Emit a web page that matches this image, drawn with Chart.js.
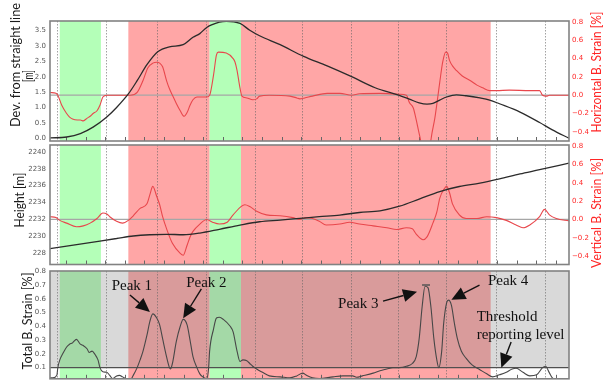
<!DOCTYPE html>
<html lang="en">
<head>
    <meta charset="UTF-8">
    <title>Bending strain along the line</title>
    <script src="https://cdn.jsdelivr.net/npm/chart.js"></script>
    <style>
        html, body { margin: 0; padding: 0; background: #fff; overflow: hidden; }
        #wrap { position: relative; width: 604px; height: 387px; }
        #wrap canvas { position: absolute; left: 0; top: 0; }
    </style>
</head>
<body>
    <div id="wrap">
        <canvas id="devChart" width="604" height="387"></canvas>
        <canvas id="heightChart" width="604" height="387"></canvas>
        <canvas id="totalChart" width="604" height="387"></canvas>
    </div>

    <script>
        // distance along the line [m]
        const xMin = -17, xMax = 513;
        const stations = [-9, 41, 93, 143, 193, 241, 291, 339, 388, 439, 489];

        // coloured zones
        const bandStart = [-7, 63, 146, 178];
        const bandEnd   = [35, 146, 178, 433];
        const bandType  = ['green', 'red', 'green', 'red'];

        // panel 1 - deviation from straight line [m]
        const devX = [-17, 0, 14, 27, 41, 51, 63, 72, 82, 93, 105, 119, 129, 136, 143, 156, 163, 177, 187, 197, 218, 242, 266, 291, 315, 339, 350, 360, 368, 374, 381, 388, 398, 408, 422, 432, 442, 463, 483, 496, 513];
        const devY = [0.01, 0.04, 0.15, 0.36, 0.69, 1.0, 1.44, 1.87, 2.39, 2.81, 2.97, 3.04, 3.28, 3.4, 3.6, 3.77, 3.8, 3.73, 3.51, 3.33, 3.04, 2.66, 2.35, 2.0, 1.64, 1.4, 1.27, 1.15, 1.11, 1.13, 1.24, 1.34, 1.41, 1.38, 1.31, 1.24, 1.12, 0.85, 0.51, 0.27, 0.0];

        // panel 1 - horizontal bending strain [%]
        const hStrainX = [-17, -11, -9, -5, 0, 3, 6, 11, 14, 17, 21, 24, 27, 31, 34, 37, 41, 54, 65, 72, 78, 83, 88, 92, 95, 98, 102, 105, 108, 112, 116, 120, 123, 126, 129, 133, 143, 146, 150, 153, 155, 163, 170, 172, 174, 177, 179, 184, 190, 194, 197, 207, 228, 235, 238, 243, 251, 266, 279, 291, 299, 320, 340, 347, 350, 354, 357, 360, 366, 371, 373, 376, 378, 381, 384, 387, 389, 391, 394, 398, 404, 412, 419, 425, 432, 439, 452, 473, 483, 486, 490, 493, 513];
        const hStrainY = [0.03, 0.02, 0.0, -0.11, -0.2, -0.24, -0.26, -0.27, -0.27, -0.28, -0.25, -0.23, -0.2, -0.17, -0.11, -0.02, 0.0, 0.0, 0.0, 0.03, 0.16, 0.3, 0.35, 0.36, 0.35, 0.31, 0.16, 0.07, 0.0, -0.09, -0.17, -0.23, -0.19, -0.11, -0.05, -0.02, -0.02, 0.0, 0.22, 0.44, 0.47, 0.46, 0.4, 0.36, 0.27, 0.08, -0.01, -0.03, -0.05, -0.04, -0.01, 0.0, -0.01, -0.03, -0.04, -0.03, -0.01, 0.02, 0.02, 0.0, 0.015, 0.02, 0.01, 0.0, -0.08, -0.14, -0.27, -0.42, -0.65, -0.55, -0.42, -0.25, -0.1, 0.14, 0.36, 0.47, 0.46, 0.38, 0.32, 0.27, 0.21, 0.16, 0.11, 0.08, 0.05, 0.05, 0.055, 0.05, 0.05, 0.0, -0.01, 0.0, 0.0];

        // panel 2 - height [m]
        const heightX = [-17, 0, 17, 34, 51, 68, 85, 102, 119, 136, 156, 177, 197, 218, 238, 258, 279, 299, 320, 340, 360, 381, 401, 422, 442, 463, 483, 513];
        const heightY = [2228.5, 2228.8, 2229.1, 2229.4, 2229.7, 2230.0, 2230.15, 2230.2, 2230.15, 2230.35, 2230.8, 2231.3, 2231.7, 2231.9, 2232.1, 2232.3, 2232.5, 2232.8, 2233.0, 2233.55, 2234.4, 2235.3, 2235.9, 2236.3, 2236.8, 2237.4, 2237.9, 2238.7];

        // panel 2 - vertical bending strain [%]
        const vStrainX = [-17, -11, -7, 0, 10, 17, 24, 31, 37, 41, 44, 51, 57, 63, 68, 75, 82, 85, 88, 92, 95, 98, 102, 108, 116, 119, 123, 126, 129, 136, 143, 149, 156, 164, 170, 182, 187, 194, 204, 218, 231, 238, 245, 251, 258, 265, 279, 289, 299, 313, 327, 337, 347, 353, 357, 364, 368, 374, 378, 381, 386, 388, 391, 394, 401, 408, 419, 429, 439, 449, 459, 466, 473, 483, 488, 493, 500, 513];
        const vStrainY = [0.03, 0.02, -0.01, -0.04, -0.08, -0.07, -0.04, 0.01, 0.07, 0.06, 0.03, -0.02, -0.04, -0.01, 0.04, 0.12, 0.17, 0.27, 0.36, 0.25, 0.16, 0.03, -0.1, -0.26, -0.37, -0.39, -0.28, -0.19, -0.13, -0.05, 0.0, -0.03, -0.05, -0.03, 0.05, 0.16, 0.14, 0.09, 0.05, 0.04, 0.02, 0.0, 0.02, 0.01, -0.02, -0.06, -0.05, -0.03, -0.05, -0.07, -0.09, -0.11, -0.09, -0.1, -0.16, -0.22, -0.19, -0.04, 0.08, 0.23, 0.34, 0.36, 0.29, 0.17, 0.05, 0.01, 0.01, 0.03, 0.02, -0.01, -0.06, -0.09, -0.06, 0.03, 0.11, 0.05, 0.01, -0.015];

        // panel 3 - total bending strain [%]
        const totalX = [-17, -14, -10, -9, -7, -4, 0, 3, 6, 8, 10, 14, 17, 21, 23, 26, 29, 32, 34, 37, 41, 44, 47, 51, 54, 57, 62, 65, 68, 72, 75, 78, 82, 85, 88, 92, 95, 98, 102, 105, 106, 108, 112, 116, 119, 123, 126, 129, 133, 136, 139, 143, 145, 146, 150, 153, 156, 160, 167, 170, 174, 177, 180, 184, 187, 190, 194, 200, 207, 218, 228, 235, 241, 245, 251, 258, 272, 282, 292, 296, 302, 313, 320, 327, 333, 340, 347, 353, 357, 360, 363, 366, 369, 372, 375, 378, 380, 383, 385, 388, 390, 393, 396, 399, 403, 408, 414, 422, 429, 435, 442, 449, 455, 459, 466, 473, 480, 486, 489, 493, 496, 503, 513];
        const totalY = [0.026, 0.026, 0.044, 0.1, 0.156, 0.2, 0.25, 0.27, 0.28, 0.295, 0.305, 0.27, 0.26, 0.235, 0.21, 0.22, 0.195, 0.156, 0.1, 0.07, 0.066, 0.044, 0.02, 0.04, 0.044, 0.033, 0.015, 0.012, 0.044, 0.1, 0.156, 0.22, 0.335, 0.436, 0.49, 0.46, 0.41, 0.31, 0.18, 0.1, 0.09, 0.13, 0.29, 0.4, 0.45, 0.41, 0.3, 0.18, 0.1, 0.055, 0.033, 0.02, 0.1, 0.22, 0.38, 0.46, 0.465, 0.45, 0.4, 0.36, 0.22, 0.145, 0.156, 0.15, 0.13, 0.11, 0.09, 0.066, 0.04, 0.033, 0.026, 0.04, 0.06, 0.044, 0.026, 0.02, 0.033, 0.04, 0.04, 0.03, 0.04, 0.06, 0.078, 0.09, 0.1, 0.1, 0.11, 0.13, 0.18, 0.31, 0.54, 0.69, 0.68, 0.54, 0.31, 0.156, 0.1, 0.22, 0.42, 0.57, 0.59, 0.55, 0.42, 0.31, 0.22, 0.167, 0.12, 0.085, 0.055, 0.033, 0.048, 0.066, 0.09, 0.095, 0.066, 0.04, 0.048, 0.1, 0.11, 0.062, 0.026, 0.005, 0.005];

        const threshold = 0.1;
        const peak3Mark = [{ x: 367, y: 0.70 }];

        const bandColors = { green: '#b4ffb8', red: '#ffa6a6' };
        const red = '#ff2626';

        function pts(xs, ys) {
            return xs.map((x, i) => ({ x: x, y: ys[i] }));
        }

        function line(data, color, width, axis) {
            return {
                data: data, yAxisID: axis, borderColor: color, borderWidth: width,
                pointRadius: 0, cubicInterpolationMode: 'monotone', fill: false
            };
        }

        function flat(y, color, width, axis) {
            return line([{ x: xMin, y: y }, { x: xMax, y: y }], color, width, axis);
        }

        // vertical axis titles, squeezed along the text like in the original figure
        function drawTitle(ctx, t) {
            ctx.save();
            ctx.translate(t.x, t.y);
            ctx.rotate(-Math.PI / 2);
            ctx.font = '13px Lato';
            ctx.fillStyle = t.color || '#1a1a1a';
            ctx.textAlign = 'center';
            ctx.textBaseline = 'middle';
            const w = ctx.measureText(t.text).width;
            ctx.scale(t.len / w, 1);
            ctx.fillText(t.text, 0, 0);
            ctx.restore();
        }

        function panelPlugin(titles, shadeAbove) {
            return {
                id: 'panel',
                beforeDraw(chart) {
                    const ctx = chart.ctx, a = chart.chartArea, x = chart.scales.x;
                    ctx.save();
                    bandStart.forEach((s, i) => {
                        const x0 = Math.max(a.left, x.getPixelForValue(s));
                        const x1 = Math.min(a.right, x.getPixelForValue(bandEnd[i]));
                        ctx.fillStyle = bandColors[bandType[i]];
                        ctx.fillRect(x0, a.top, x1 - x0, a.bottom - a.top);
                    });
                    if (shadeAbove !== undefined) {
                        const yT = chart.scales.y.getPixelForValue(shadeAbove);
                        ctx.fillStyle = 'rgba(128,128,128,0.3)';
                        ctx.fillRect(a.left, a.top, a.right - a.left, yT - a.top);
                    }
                    ctx.restore();
                },
                afterDraw(chart) {
                    const ctx = chart.ctx, a = chart.chartArea;
                    ctx.save();
                    ctx.strokeStyle = '#828282';
                    ctx.lineWidth = 1.6;
                    ctx.strokeRect(a.left, a.top, a.right - a.left, a.bottom - a.top);
                    ctx.restore();
                    titles.forEach(t => drawTitle(ctx, t));
                }
            };
        }

        // arrows and labels of panel 3 (data coordinates)
        const notes = [
            { text: 'Peak 1', tx: 66.6, ty: 0.690, from: [64.6, 0.627], to: [85.0, 0.504] },
            { text: 'Peak 2', tx: 142.7, ty: 0.716, from: [137.6, 0.672], to: [119.0, 0.459] },
            { text: 'Peak 3', tx: 297.8, ty: 0.561, from: [323.1, 0.583], to: [357.8, 0.650] },
            { text: 'Peak 4', tx: 450.8, ty: 0.729, from: [421.6, 0.699], to: [392.9, 0.593] },
            { text: ['Threshold', 'reporting level'], tx: 418.7, ty: [0.470, 0.336], align: 'left', from: [453.9, 0.286], to: [443.9, 0.1] }
        ];

        const notesPlugin = {
            id: 'notes',
            afterDatasetsDraw(chart) {
                const ctx = chart.ctx, sx = chart.scales.x, sy = chart.scales.y;
                ctx.save();
                ctx.font = '15px "Liberation Serif"';
                ctx.fillStyle = '#111';
                ctx.strokeStyle = '#111';
                ctx.textBaseline = 'middle';
                notes.forEach(n => {
                    const texts = Array.isArray(n.text) ? n.text : [n.text];
                    const ys = Array.isArray(n.ty) ? n.ty : [n.ty];
                    ctx.textAlign = n.align || 'center';
                    texts.forEach((t, i) => ctx.fillText(t, sx.getPixelForValue(n.tx), sy.getPixelForValue(ys[i])));

                    const x1 = sx.getPixelForValue(n.from[0]), y1 = sy.getPixelForValue(n.from[1]);
                    const x2 = sx.getPixelForValue(n.to[0]), y2 = sy.getPixelForValue(n.to[1]);
                    const ang = Math.atan2(y2 - y1, x2 - x1), L = 14, W = 6.5;
                    const bx = x2 - L * Math.cos(ang), by = y2 - L * Math.sin(ang);
                    ctx.lineWidth = 1.4;
                    ctx.beginPath();
                    ctx.moveTo(x1, y1);
                    ctx.lineTo(bx, by);
                    ctx.stroke();
                    ctx.beginPath();
                    ctx.moveTo(x2, y2);
                    ctx.lineTo(bx + W * Math.sin(ang), by - W * Math.cos(ang));
                    ctx.lineTo(bx - W * Math.sin(ang), by + W * Math.cos(ang));
                    ctx.closePath();
                    ctx.fill();
                });
                ctx.restore();
            }
        };

        function fmt(v) {
            if (Math.abs(v) < 1e-9) return '0.0';
            return v.toFixed(1).replace('-', '\u2212');
        }

        function xScales() {
            return {
                x: {
                    type: 'linear', min: xMin, max: xMax, position: 'bottom',
                    afterBuildTicks: s => { s.ticks = stations.map(v => ({ value: v })); },
                    afterFit: s => { s.height = 0; },
                    ticks: { display: false },
                    grid: { color: 'rgba(100,100,100,0.6)', lineWidth: 1, drawTicks: false },
                    border: { display: false, dash: [1.5, 1.5] }
                },
                xm: {
                    type: 'linear', min: xMin, max: xMax, position: 'bottom',
                    afterFit: s => { s.height = 0; },
                    ticks: { display: false, stepSize: 20, includeBounds: false },
                    grid: { drawOnChartArea: false, drawTicks: true, tickLength: -4, tickColor: '#666', tickWidth: 1 },
                    border: { display: false }
                }
            };
        }

        function yScale(pos, min, max, step, color, width, cb) {
            return {
                position: pos, min: min, max: max,
                afterFit: s => { s.width = width; },
                ticks: {
                    stepSize: step, includeBounds: false, padding: pos === 'left' ? 4 : 3,
                    color: color, font: { family: 'DejaVu Sans', size: 7 }, callback: cb
                },
                grid: { display: false, drawTicks: false },
                border: { display: false }
            };
        }

        function baseOptions(padTop, padBottom, padRight, scales) {
            return {
                responsive: false,
                animation: false,
                devicePixelRatio: 1,
                layout: { padding: { top: padTop, bottom: padBottom, left: 0, right: padRight } },
                plugins: { legend: { display: false }, tooltip: { enabled: false } },
                scales: Object.assign(xScales(), scales)
            };
        }

        new Chart(document.getElementById('devChart'), {
            type: 'line',
            data: {
                datasets: [
                    line(pts(devX, devY), '#2b2b2b', 1.3, 'y'),
                    line(pts(hStrainX, hStrainY), '#e8474c', 1.1, 'yR'),
                    flat(0, '#a6a6a6', 1.2, 'yR')
                ]
            },
            options: baseOptions(21, 246, 0, {
                y: yScale('left', -0.09, 3.81, 0.5, '#555', 50, fmt),
                yR: yScale('right', -0.5, 0.81, 0.2, red, 35, fmt)
            }),
            plugins: [panelPlugin([
                { text: 'Dev. from straight line', x: 16, y: 65, len: 124 },
                { text: '[m]', x: 29, y: 76, len: 12 },
                { text: 'Horizontal B. Strain [%]', x: 597, y: 72, len: 121, color: red }
            ])]
        });

        new Chart(document.getElementById('heightChart'), {
            type: 'line',
            data: {
                datasets: [
                    line(pts(heightX, heightY), '#2b2b2b', 1.3, 'y'),
                    line(pts(vStrainX, vStrainY), '#e8474c', 1.1, 'yR'),
                    flat(0, '#a6a6a6', 1.2, 'yR')
                ]
            },
            options: baseOptions(145, 122.5, 0, {
                y: yScale('left', 2226.6, 2240.85, 2, '#555', 50, v => v === 2228 ? '228' : String(v)),
                yR: yScale('right', -0.49, 0.81, 0.2, red, 35, fmt)
            }),
            plugins: [panelPlugin([
                { text: 'Height [m]', x: 20, y: 200, len: 55 },
                { text: 'Vertical B. Strain [%]', x: 597, y: 213, len: 110, color: red }
            ])]
        });

        new Chart(document.getElementById('totalChart'), {
            type: 'line',
            data: {
                datasets: [
                    line(pts(totalX, totalY), '#474747', 1.1, 'y'),
                    {
                        data: peak3Mark, yAxisID: 'y', showLine: false, pointStyle: 'line',
                        pointRadius: 4, borderColor: '#555', borderWidth: 1.5
                    },
                    flat(threshold, '#505050', 1.3, 'y')
                ]
            },
            options: baseOptions(271, 0, 35, {
                y: yScale('left', 0.019, 0.801, 0.1, '#555', 50, fmt)
            }),
            plugins: [panelPlugin([
                { text: 'Total B. Strain [%]', x: 28, y: 321, len: 97 }
            ], threshold), notesPlugin]
        });
    </script>
</body>
</html>
